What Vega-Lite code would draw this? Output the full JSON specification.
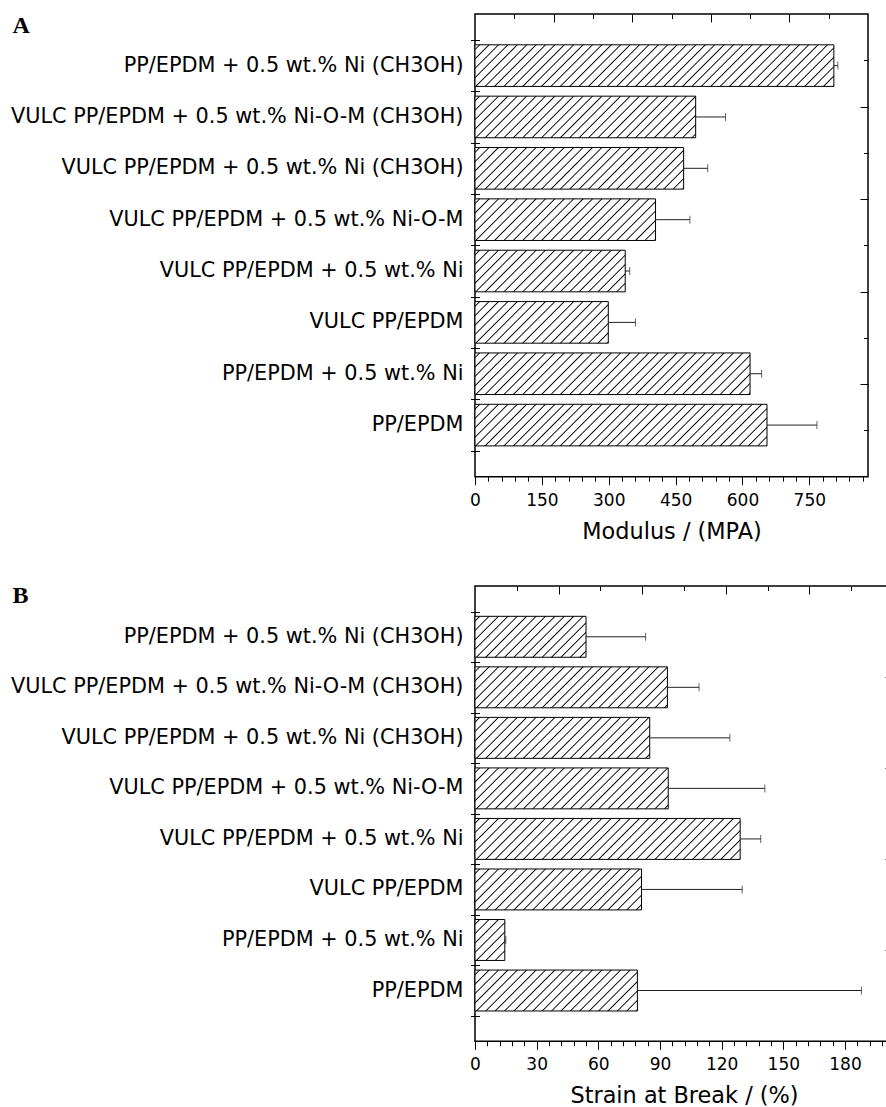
{
  "$schema": "https://vega.github.io/schema/vega-lite/v6.json",
  "padding": {"top": 12, "left": 9, "right": 0, "bottom": 0},
  "spacing": 38,
  "params": [
    {"name": "hatch", "value": [
      {"offset": 0.0080, "color": "#ffffff"}, {"offset": 0.0111, "color": "#000000"}, {"offset": 0.0142, "color": "#ffffff"},
      {"offset": 0.0302, "color": "#ffffff"}, {"offset": 0.0333, "color": "#000000"}, {"offset": 0.0364, "color": "#ffffff"},
      {"offset": 0.0525, "color": "#ffffff"}, {"offset": 0.0556, "color": "#000000"}, {"offset": 0.0586, "color": "#ffffff"},
      {"offset": 0.0747, "color": "#ffffff"}, {"offset": 0.0778, "color": "#000000"}, {"offset": 0.0809, "color": "#ffffff"},
      {"offset": 0.0969, "color": "#ffffff"}, {"offset": 0.1000, "color": "#000000"}, {"offset": 0.1031, "color": "#ffffff"},
      {"offset": 0.1191, "color": "#ffffff"}, {"offset": 0.1222, "color": "#000000"}, {"offset": 0.1253, "color": "#ffffff"},
      {"offset": 0.1414, "color": "#ffffff"}, {"offset": 0.1444, "color": "#000000"}, {"offset": 0.1475, "color": "#ffffff"},
      {"offset": 0.1636, "color": "#ffffff"}, {"offset": 0.1667, "color": "#000000"}, {"offset": 0.1697, "color": "#ffffff"},
      {"offset": 0.1858, "color": "#ffffff"}, {"offset": 0.1889, "color": "#000000"}, {"offset": 0.1920, "color": "#ffffff"},
      {"offset": 0.2080, "color": "#ffffff"}, {"offset": 0.2111, "color": "#000000"}, {"offset": 0.2142, "color": "#ffffff"},
      {"offset": 0.2303, "color": "#ffffff"}, {"offset": 0.2333, "color": "#000000"}, {"offset": 0.2364, "color": "#ffffff"},
      {"offset": 0.2525, "color": "#ffffff"}, {"offset": 0.2556, "color": "#000000"}, {"offset": 0.2586, "color": "#ffffff"},
      {"offset": 0.2747, "color": "#ffffff"}, {"offset": 0.2778, "color": "#000000"}, {"offset": 0.2809, "color": "#ffffff"},
      {"offset": 0.2969, "color": "#ffffff"}, {"offset": 0.3000, "color": "#000000"}, {"offset": 0.3031, "color": "#ffffff"},
      {"offset": 0.3191, "color": "#ffffff"}, {"offset": 0.3222, "color": "#000000"}, {"offset": 0.3253, "color": "#ffffff"},
      {"offset": 0.3414, "color": "#ffffff"}, {"offset": 0.3444, "color": "#000000"}, {"offset": 0.3475, "color": "#ffffff"},
      {"offset": 0.3636, "color": "#ffffff"}, {"offset": 0.3667, "color": "#000000"}, {"offset": 0.3697, "color": "#ffffff"},
      {"offset": 0.3858, "color": "#ffffff"}, {"offset": 0.3889, "color": "#000000"}, {"offset": 0.3920, "color": "#ffffff"},
      {"offset": 0.4080, "color": "#ffffff"}, {"offset": 0.4111, "color": "#000000"}, {"offset": 0.4142, "color": "#ffffff"},
      {"offset": 0.4303, "color": "#ffffff"}, {"offset": 0.4333, "color": "#000000"}, {"offset": 0.4364, "color": "#ffffff"},
      {"offset": 0.4525, "color": "#ffffff"}, {"offset": 0.4556, "color": "#000000"}, {"offset": 0.4586, "color": "#ffffff"},
      {"offset": 0.4747, "color": "#ffffff"}, {"offset": 0.4778, "color": "#000000"}, {"offset": 0.4809, "color": "#ffffff"},
      {"offset": 0.4969, "color": "#ffffff"}, {"offset": 0.5000, "color": "#000000"}, {"offset": 0.5031, "color": "#ffffff"},
      {"offset": 0.5191, "color": "#ffffff"}, {"offset": 0.5222, "color": "#000000"}, {"offset": 0.5253, "color": "#ffffff"},
      {"offset": 0.5414, "color": "#ffffff"}, {"offset": 0.5444, "color": "#000000"}, {"offset": 0.5475, "color": "#ffffff"},
      {"offset": 0.5636, "color": "#ffffff"}, {"offset": 0.5667, "color": "#000000"}, {"offset": 0.5697, "color": "#ffffff"},
      {"offset": 0.5858, "color": "#ffffff"}, {"offset": 0.5889, "color": "#000000"}, {"offset": 0.5920, "color": "#ffffff"},
      {"offset": 0.6080, "color": "#ffffff"}, {"offset": 0.6111, "color": "#000000"}, {"offset": 0.6142, "color": "#ffffff"},
      {"offset": 0.6303, "color": "#ffffff"}, {"offset": 0.6333, "color": "#000000"}, {"offset": 0.6364, "color": "#ffffff"},
      {"offset": 0.6525, "color": "#ffffff"}, {"offset": 0.6556, "color": "#000000"}, {"offset": 0.6586, "color": "#ffffff"},
      {"offset": 0.6747, "color": "#ffffff"}, {"offset": 0.6778, "color": "#000000"}, {"offset": 0.6809, "color": "#ffffff"},
      {"offset": 0.6969, "color": "#ffffff"}, {"offset": 0.7000, "color": "#000000"}, {"offset": 0.7031, "color": "#ffffff"},
      {"offset": 0.7191, "color": "#ffffff"}, {"offset": 0.7222, "color": "#000000"}, {"offset": 0.7253, "color": "#ffffff"},
      {"offset": 0.7414, "color": "#ffffff"}, {"offset": 0.7444, "color": "#000000"}, {"offset": 0.7475, "color": "#ffffff"},
      {"offset": 0.7636, "color": "#ffffff"}, {"offset": 0.7667, "color": "#000000"}, {"offset": 0.7697, "color": "#ffffff"},
      {"offset": 0.7858, "color": "#ffffff"}, {"offset": 0.7889, "color": "#000000"}, {"offset": 0.7920, "color": "#ffffff"},
      {"offset": 0.8080, "color": "#ffffff"}, {"offset": 0.8111, "color": "#000000"}, {"offset": 0.8142, "color": "#ffffff"},
      {"offset": 0.8303, "color": "#ffffff"}, {"offset": 0.8333, "color": "#000000"}, {"offset": 0.8364, "color": "#ffffff"},
      {"offset": 0.8525, "color": "#ffffff"}, {"offset": 0.8556, "color": "#000000"}, {"offset": 0.8586, "color": "#ffffff"},
      {"offset": 0.8747, "color": "#ffffff"}, {"offset": 0.8778, "color": "#000000"}, {"offset": 0.8809, "color": "#ffffff"},
      {"offset": 0.8969, "color": "#ffffff"}, {"offset": 0.9000, "color": "#000000"}, {"offset": 0.9031, "color": "#ffffff"},
      {"offset": 0.9191, "color": "#ffffff"}, {"offset": 0.9222, "color": "#000000"}, {"offset": 0.9253, "color": "#ffffff"},
      {"offset": 0.9414, "color": "#ffffff"}, {"offset": 0.9444, "color": "#000000"}, {"offset": 0.9475, "color": "#ffffff"},
      {"offset": 0.9636, "color": "#ffffff"}, {"offset": 0.9667, "color": "#000000"}, {"offset": 0.9697, "color": "#ffffff"},
      {"offset": 0.9858, "color": "#ffffff"}, {"offset": 0.9889, "color": "#000000"}, {"offset": 0.9920, "color": "#ffffff"}
    ]}
  ],
  "datasets": {
    "A": [
      {"sample": "PP/EPDM + 0.5 wt.% Ni (CH3OH)", "modulus": 805, "upper": 814},
      {"sample": "VULC PP/EPDM + 0.5 wt.% Ni-O-M (CH3OH)", "modulus": 495, "upper": 562},
      {"sample": "VULC PP/EPDM + 0.5 wt.% Ni (CH3OH)", "modulus": 468, "upper": 522},
      {"sample": "VULC PP/EPDM + 0.5 wt.% Ni-O-M", "modulus": 405, "upper": 482},
      {"sample": "VULC PP/EPDM + 0.5 wt.% Ni", "modulus": 337, "upper": 347},
      {"sample": "VULC PP/EPDM", "modulus": 299, "upper": 360},
      {"sample": "PP/EPDM + 0.5 wt.% Ni", "modulus": 617, "upper": 643},
      {"sample": "PP/EPDM", "modulus": 655, "upper": 767}
    ],
    "B": [
      {"sample": "PP/EPDM + 0.5 wt.% Ni (CH3OH)", "strain": 54, "upper": 83},
      {"sample": "VULC PP/EPDM + 0.5 wt.% Ni-O-M (CH3OH)", "strain": 93.6, "upper": 109},
      {"sample": "VULC PP/EPDM + 0.5 wt.% Ni (CH3OH)", "strain": 85, "upper": 124},
      {"sample": "VULC PP/EPDM + 0.5 wt.% Ni-O-M", "strain": 94, "upper": 141},
      {"sample": "VULC PP/EPDM + 0.5 wt.% Ni", "strain": 129, "upper": 139},
      {"sample": "VULC PP/EPDM", "strain": 81, "upper": 130},
      {"sample": "PP/EPDM + 0.5 wt.% Ni", "strain": 14.5, "upper": 15},
      {"sample": "PP/EPDM", "strain": 79, "upper": 188}
    ]
  },
  "config": {
    "font": "DejaVu Sans",
    "view": {"stroke": "black", "strokeWidth": 1.5},
    "axis": {"domain": false, "grid": false, "tickColor": "black", "tickWidth": 1, "labelColor": "black", "titleColor": "black", "labelFont": "DejaVu Sans", "titleFont": "DejaVu Sans", "titleFontWeight": "normal"}
  },
  "vconcat": [
    {
      "data": {"name": "A"},
      "width": 393,
      "height": 462.7,
      "layer": [
        {
          "mark": {"type": "bar", "stroke": "black", "strokeWidth": 1,
            "fill": {"expr": "{gradient: 'linear', x1: 0, y1: 0, x2: 423*datum.modulus*0.44578/(pow(datum.modulus*0.44578, 2) + 1730), y2: 423*41.6/(pow(datum.modulus*0.44578, 2) + 1730), stops: hatch}"}},
          "encoding": {
            "y": {"field": "sample", "type": "nominal", "sort": null, "scale": {"paddingInner": 0.19, "paddingOuter": 0.6},
              "axis": {"title": "A", "titleAngle": 0, "titleAlign": "left", "titleBaseline": "alphabetic", "titleX": -463, "titleY": 18,
                "titleFont": "Liberation Serif", "titleFontWeight": "bold", "titleFontSize": 24,
                "ticks": false, "domain": false, "labelFontSize": 20.8, "labelPadding": 12, "labelLimit": 0}},
            "x": {"field": "modulus", "type": "quantitative", "scale": {"domain": [0, 881.6], "nice": false, "zero": true},
              "axis": {"orient": "bottom", "values": [0,30,60,90,120,150,180,210,240,270,300,330,360,390,420,450,480,510,540,570,600,630,660,690,720,750,780,810,840,870],
                "labelExpr": "datum.value % 150 === 0 && datum.value <= 750 ? datum.label : ''",
                "labelOverlap": false, "labelFlush": false,
                "tickSize": {"condition": {"test": "datum.value % 150 === 0", "value": 8}, "value": 4.5},
                "labelFontSize": 17, "labelPadding": 7.5,
                "title": "Modulus / (MPA)", "titleFontSize": 22.4, "titlePadding": 12}}
          }
        },
        {
          "mark": {"type": "rule", "color": "#222222", "strokeWidth": 1},
          "encoding": {
            "y": {"field": "sample", "type": "nominal", "sort": null, "scale": {"paddingInner": 0.19, "paddingOuter": 0.6}, "axis": null},
            "x": {"field": "modulus", "type": "quantitative",
              "axis": {"orient": "top", "values": [88.16,176.32,264.48,352.64,440.8,528.96,617.12,705.28,793.44], "labels": false, "title": null,
                "tickSize": {"condition": {"test": "round(datum.value/88.16) % 2 === 0", "value": -8}, "value": -4.5}}},
            "x2": {"field": "upper"}
          }
        },
        {
          "mark": {"type": "tick", "color": "#222222", "size": 8, "thickness": 1, "orient": "vertical"},
          "encoding": {
            "y": {"field": "sample", "type": "nominal", "sort": null, "scale": {"paddingInner": 0.19, "paddingOuter": 0.6}, "axis": null},
            "x": {"field": "upper", "type": "quantitative", "axis": null}
          }
        },
        {
          "mark": {"type": "point", "opacity": 0},
          "encoding": {
            "x": {"field": "modulus", "type": "quantitative", "axis": null},
            "y": {"datum": 5, "type": "quantitative", "scale": {"domain": [0, 10], "nice": false, "zero": false},
              "axis": {"orient": "right", "values": [1,2,3,4,5,6,7,8,9], "labels": false, "title": null, "domain": false,
                "tickSize": {"condition": {"test": "datum.value % 2 === 0", "value": -8}, "value": -4.5}}}
          }
        },
        {
          "mark": {"type": "point", "opacity": 0},
          "encoding": {
            "x": {"field": "modulus", "type": "quantitative", "axis": null},
            "y": {"datum": 1, "type": "quantitative", "scale": {"domain": [0, 9.01], "reverse": true, "nice": false, "zero": false},
              "axis": {"orient": "left", "values": [0.505,1.505,2.505,3.505,4.505,5.505,6.505,7.505,8.505], "labels": false, "title": null, "domain": false, "tickSize": 9, "offset": -4.5}}
          }
        }
      ],
      "resolve": {"scale": {"y": "independent"}, "axis": {"x": "independent", "y": "independent"}}
    },
    {
      "data": {"name": "B"},
      "width": 418,
      "height": 455.3,
      "layer": [
        {
          "mark": {"type": "bar", "stroke": "black", "strokeWidth": 1,
            "fill": {"expr": "{gradient: 'linear', x1: 0, y1: 0, x2: 423*datum.strain*2.0556/(pow(datum.strain*2.0556, 2) + 1675), y2: 423*40.93/(pow(datum.strain*2.0556, 2) + 1675), stops: hatch}"}},
          "encoding": {
            "y": {"field": "sample", "type": "nominal", "sort": null, "scale": {"paddingInner": 0.19, "paddingOuter": 0.6},
              "axis": {"title": "B", "titleAngle": 0, "titleAlign": "left", "titleBaseline": "alphabetic", "titleX": -463, "titleY": 16.7,
                "titleFont": "Liberation Serif", "titleFontWeight": "bold", "titleFontSize": 24,
                "ticks": false, "domain": false, "labelFontSize": 20.8, "labelPadding": 12, "labelLimit": 0}},
            "x": {"field": "strain", "type": "quantitative", "scale": {"domain": [0, 203.35], "nice": false, "zero": true},
              "axis": {"orient": "bottom", "values": [0,6,12,18,24,30,36,42,48,54,60,66,72,78,84,90,96,102,108,114,120,126,132,138,144,150,156,162,168,174,180,186,192,198],
                "labelExpr": "datum.value % 30 === 0 && datum.value <= 180 ? datum.label : ''",
                "labelOverlap": false, "labelFlush": false,
                "tickSize": {"condition": {"test": "datum.value % 30 === 0", "value": 8}, "value": 4.5},
                "labelFontSize": 17, "labelPadding": 7.5,
                "title": "Strain at Break / (%)", "titleFontSize": 22.4, "titlePadding": 12}}
          }
        },
        {
          "mark": {"type": "rule", "color": "#222222", "strokeWidth": 1},
          "encoding": {
            "y": {"field": "sample", "type": "nominal", "sort": null, "scale": {"paddingInner": 0.19, "paddingOuter": 0.6}, "axis": null},
            "x": {"field": "strain", "type": "quantitative",
              "axis": {"orient": "top", "values": [20.335,40.67,61.005,81.34,101.675,122.01,142.345,162.68,183.015], "labels": false, "title": null,
                "tickSize": {"condition": {"test": "round(datum.value/20.335) % 2 === 0", "value": -8}, "value": -4.5}}},
            "x2": {"field": "upper"}
          }
        },
        {
          "mark": {"type": "tick", "color": "#222222", "size": 8, "thickness": 1, "orient": "vertical"},
          "encoding": {
            "y": {"field": "sample", "type": "nominal", "sort": null, "scale": {"paddingInner": 0.19, "paddingOuter": 0.6}, "axis": null},
            "x": {"field": "upper", "type": "quantitative", "axis": null}
          }
        },
        {
          "mark": {"type": "point", "opacity": 0},
          "encoding": {
            "x": {"field": "strain", "type": "quantitative", "axis": null},
            "y": {"datum": 5, "type": "quantitative", "scale": {"domain": [0, 10], "nice": false, "zero": false},
              "axis": {"orient": "right", "values": [1,2,3,4,5,6,7,8,9], "labels": false, "title": null, "domain": false,
                "tickSize": {"condition": {"test": "datum.value % 2 === 0", "value": -8}, "value": -4.5}}}
          }
        },
        {
          "mark": {"type": "point", "opacity": 0},
          "encoding": {
            "x": {"field": "strain", "type": "quantitative", "axis": null},
            "y": {"datum": 1, "type": "quantitative", "scale": {"domain": [0, 9.01], "reverse": true, "nice": false, "zero": false},
              "axis": {"orient": "left", "values": [0.505,1.505,2.505,3.505,4.505,5.505,6.505,7.505,8.505], "labels": false, "title": null, "domain": false, "tickSize": 9, "offset": -4.5}}
          }
        }
      ],
      "resolve": {"scale": {"y": "independent"}, "axis": {"x": "independent", "y": "independent"}}
    }
  ]
}
